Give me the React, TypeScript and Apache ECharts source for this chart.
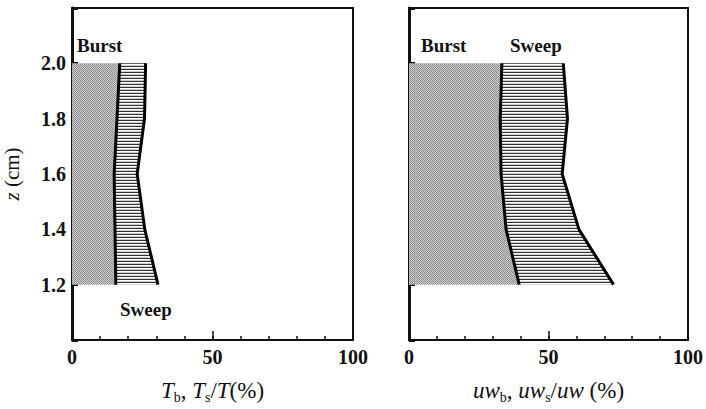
import React, { useEffect, useRef } from "react";
import * as echarts from "echarts";

const zLevels = ["1.0", "1.2", "1.4", "1.6", "1.8", "2.0", "2.2"];
// values at z = 1.2, 1.4, 1.6, 1.8, 2.0 (ends null)
const burstTime = ["-", 15.6, 15.3, 15.0, 16.0, 17.0, "-"];
const sweepTime = ["-", 15.0, 10.6, 8.2, 9.8, 9.2, "-"];
const burstFlux = ["-", 39.5, 34.8, 33.0, 32.7, 33.3, "-"];
const sweepFlux = ["-", 33.8, 26.1, 21.9, 24.1, 22.0, "-"];
const xTickLabels = [0, 50, 100];

const FONT = "'Liberation Serif', 'Times New Roman', serif";

function makeStipple() {
  const c = document.createElement("canvas");
  c.width = 4;
  c.height = 4;
  const g = c.getContext("2d")!;
  const grid = [
    "#8a8a8a", "#c8c8c8", "#9a9a9a", "#d0d0d0",
    "#cccccc", "#909090", "#c4c4c4", "#969696",
    "#9c9c9c", "#cacaca", "#8e8e8e", "#c6c6c6",
    "#c2c2c2", "#989898", "#cecece", "#929292",
  ];
  for (let y = 0; y < 4; y++) {
    for (let x = 0; x < 4; x++) {
      g.fillStyle = grid[y * 4 + x];
      g.fillRect(x, y, 1, 1);
    }
  }
  return c.toDataURL();
}

function makeHatch() {
  const c = document.createElement("canvas");
  c.width = 4;
  c.height = 3;
  const g = c.getContext("2d")!;
  g.fillStyle = "#ffffff";
  g.fillRect(0, 0, 4, 3);
  g.fillStyle = "#333333";
  g.fillRect(0, 0, 4, 1);
  g.fillStyle = "#cfcfcf";
  g.fillRect(0, 2, 4, 1);
  return c.toDataURL();
}

export default function App() {
  const ref = useRef<HTMLDivElement>(null);
  useEffect(() => {
    if (!ref.current) return;
    const chart = echarts.init(ref.current, undefined, { renderer: "svg" });
    const stipple = { image: makeStipple(), repeat: "repeat", imageWidth: 4, imageHeight: 4 };
    const hatch = { image: makeHatch(), repeat: "repeat", imageWidth: 4, imageHeight: 3 };

    const labelStyle = {
      fontFamily: FONT,
      fontSize: 20,
      fontWeight: "bold",
      color: "#111",
    };

    const xAxisBase = (gi: number, name: string, rich: any) => ({
      type: "value",
      gridIndex: gi,
      min: 0,
      max: 100,
      interval: 10,
      position: "bottom",
      axisLine: { show: false },
      splitLine: { show: false },
      axisTick: { show: true, inside: true, length: 4, lineStyle: { color: "#111", width: 1.5 } },
      axisLabel: {
        ...labelStyle,
        margin: 7,
        formatter: (v: number) => (xTickLabels.indexOf(v) >= 0 ? String(v) : ""),
      },
      name,
      nameLocation: "middle",
      nameGap: 36,
      nameTextStyle: { rich },
    });
    const xAxisMajor = (gi: number) => ({
      type: "value",
      gridIndex: gi,
      min: 0,
      max: 100,
      interval: 50,
      position: "bottom",
      axisLine: { show: false },
      splitLine: { show: false },
      axisTick: { show: true, inside: true, length: 9, lineStyle: { color: "#111", width: 1.5 } },
      axisLabel: { show: false },
    });
    const yAxisBase = (gi: number, showLabels: boolean) => ({
      type: "category",
      gridIndex: gi,
      data: zLevels,
      boundaryGap: false,
      axisLine: { show: true, lineStyle: { color: "#111", width: 3 } },
      axisTick: { show: true, inside: true, length: 6, lineStyle: { color: "#111", width: 3 } },
      splitLine: { show: false },
      axisLabel: {
        show: showLabels,
        ...labelStyle,
        margin: 6,
        formatter: (v: string) => (v === "1.0" || v === "2.2" ? "" : v),
      },
      name: showLabels ? "{i|z}{n| (cm)}" : "",
      nameLocation: "middle",
      nameRotate: 90,
      nameGap: 50,
      nameTextStyle: {
        rich: {
          i: { fontFamily: FONT, fontSize: 21, fontStyle: "italic", color: "#111" },
          n: { fontFamily: FONT, fontSize: 21, color: "#111" },
        },
      },
    });

    const richFor = {
      i: { fontFamily: FONT, fontSize: 23, fontStyle: "italic", color: "#111", lineHeight: 28 },
      s: { fontFamily: FONT, fontSize: 14, color: "#111", lineHeight: 14, verticalAlign: "bottom" },
      n: { fontFamily: FONT, fontSize: 23, color: "#111", lineHeight: 28 },
    };

    const lineSeries = (xi: number, yi: number, data: any[], fill: any, stack: string, z: number) => ({
      type: "line",
      xAxisIndex: xi,
      yAxisIndex: yi,
      stack,
      z,
      data,
      showSymbol: false,
      symbol: "none",
      connectNulls: false,
      lineStyle: { color: "#000", width: 3 },
      areaStyle: { color: fill, opacity: 1 },
      silent: true,
    });

    const textEl = (x: number, y: number, t: string) => ({
      type: "text",
      x,
      y,
      style: {
        text: t,
        font: `bold 19px ${FONT}`,
        fill: "#111",
        verticalAlign: "middle",
      },
    });

    chart.setOption({
      animation: false,
      backgroundColor: "#fff",
      grid: [
        { left: 69, right: 353, top: 8, bottom: 63, show: true, borderColor: "#111", borderWidth: 2, backgroundColor: "transparent" },
        { left: 409, right: 16, top: 8, bottom: 63, show: true, borderColor: "#111", borderWidth: 2, backgroundColor: "transparent" },
      ],
      xAxis: [
        xAxisBase(0, "{i|T}{s|b}{n|, }{i|T}{s|s}{n|/}{i|T}{n|(%)}", richFor),
        xAxisBase(1, "{i|uw}{s|b}{n|, }{i|uw}{s|s}{n|/}{i|uw}{n| (%)}", richFor),
        xAxisMajor(0),
        xAxisMajor(1),
      ],
      yAxis: [yAxisBase(0, true), yAxisBase(1, false)],
      series: [
        lineSeries(0, 0, burstTime, stipple, "t", 3),
        lineSeries(0, 0, sweepTime, hatch, "t", 2),
        lineSeries(1, 1, burstFlux, stipple, "f", 3),
        lineSeries(1, 1, sweepFlux, hatch, "f", 2),
      ],
      graphic: [
        textEl(77, 45, "Burst"),
        textEl(120, 309, "Sweep"),
        textEl(421, 45, "Burst"),
        textEl(510, 45, "Sweep"),
      ],
    });
    return () => chart.dispose();
  }, []);
  return (
    <div
      ref={ref}
      style={{ position: "fixed", left: 0, top: 0, width: 706, height: 409, background: "#fff" }}
    />
  );
}
